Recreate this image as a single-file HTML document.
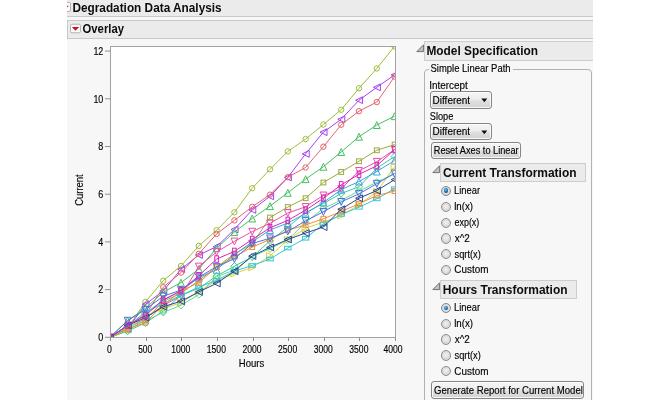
<!DOCTYPE html>
<html lang="en"><head><meta charset="utf-8"><title>Degradation Data Analysis</title>
<style>
html,body{margin:0;padding:0;background:#fff;}
body{width:668px;height:400px;position:relative;overflow:hidden;font-family:"Liberation Sans",sans-serif;color:#000;}
#panel{position:absolute;left:67px;top:0;width:526px;height:400px;background:#f7f7f7;overflow:hidden;}
.abs{position:absolute;}
.hdr{position:absolute;background:#ebebeb;box-sizing:border-box;}
.b{position:absolute;font-weight:bold;white-space:nowrap;line-height:20px;color:#0c0c0c;transform-origin:0 0;}
.t{position:absolute;white-space:nowrap;line-height:20px;font-size:10.5px;transform-origin:0 0;color:#000;-webkit-text-stroke:0.15px #000;}
.chart{position:absolute;left:0;top:0;}
.chart text{font-family:"Liberation Sans",sans-serif;}
.btn{position:absolute;box-sizing:border-box;border:1px solid #868686;border-radius:3px;background:linear-gradient(#f5f5f5 0%,#ededed 45%,#dfdfdf 55%,#d3d3d3 100%);box-shadow:inset 0 0 0 1px rgba(255,255,255,.8);}
.radio{position:absolute;width:10.4px;height:10.4px;box-sizing:border-box;border-radius:50%;border:1px solid #8e8e8e;background:radial-gradient(circle at 50% 45%,#f2f2f2 0%,#dedede 50%,#c8c8c8 100%);}
.radio.on{border-color:#80868c;background:radial-gradient(circle at 50% 45%,#e8e8e8 0%,#dcdcdc 60%,#c8c8c8 100%);}
.radio.on i{position:absolute;left:1.9px;top:1.9px;width:4.6px;height:4.6px;border-radius:50%;background:radial-gradient(circle at 42% 38%,#86d6f6 0%,#1f8ccc 34%,#0c4c80 78%,#093e6c 100%);}
</style></head><body>
<div id="panel"></div>

<div class="hdr" style="left:67px;top:0;width:526px;height:17px;border-bottom:1px solid #c8c8c8;"></div>
<div class="hdr" style="left:67px;top:20px;width:526px;height:19px;border:1px solid #c8c8c8;border-right:none;"></div>
<svg class="abs" style="left:67px;top:1.6px" width="5" height="12" viewBox="0 0 5 12"><rect x="-6.5" y="0.5" width="10" height="9" rx="1.5" fill="#fafafa" stroke="#b4b4b4"/><path d="M-6 3.7 L1.8 3.7 L-2.1 7.5 Z" fill="#d0101c"/></svg>
<svg class="abs" style="left:69.8px;top:23px" width="12" height="12" viewBox="0 0 12 12"><rect x="0.5" y="1.2" width="10" height="8.6" rx="1.5" fill="#fafafa" stroke="#b4b4b4"/><path d="M1.9 4 L9.1 4 L5.5 7.7 Z" fill="#d0101c"/></svg>
<div class="b" style="left:72px;top:-2px;font-size:12.8px;transform:matrix(0.9228,0.0004,0,1,0.43,0.10);">Degradation Data Analysis</div>
<div class="b" style="left:82px;top:19px;font-size:12.8px;transform:matrix(0.8824,0.0004,0,1,0.55,0.40);">Overlay</div>
<svg class="chart" width="668" height="400" viewBox="0 0 668 400">
<defs><clipPath id="pc"><rect x="110.5" y="46.5" width="285.0" height="291.0"/></clipPath></defs>
<rect x="110.5" y="46.5" width="285.0" height="291.0" fill="#ffffff" stroke="none"/>
<g clip-path="url(#pc)" fill="none" stroke-width="1" stroke-linejoin="miter">
<g stroke="#9cbe38"><polyline points="109.80,337.50 127.60,327.72 145.40,301.96 163.20,280.74 181.00,265.95 198.80,245.92 216.60,230.18 234.40,212.29 252.20,188.20 270.00,169.36 287.80,151.47 305.60,139.07 323.40,124.52 341.20,109.73 359.00,88.27 376.80,68.47 394.60,46.29"/>
<circle cx="109.80" cy="337.50" r="2.7"/>
<circle cx="127.60" cy="327.72" r="2.7"/>
<circle cx="145.40" cy="301.96" r="2.7"/>
<circle cx="163.20" cy="280.74" r="2.7"/>
<circle cx="181.00" cy="265.95" r="2.7"/>
<circle cx="198.80" cy="245.92" r="2.7"/>
<circle cx="216.60" cy="230.18" r="2.7"/>
<circle cx="234.40" cy="212.29" r="2.7"/>
<circle cx="252.20" cy="188.20" r="2.7"/>
<circle cx="270.00" cy="169.36" r="2.7"/>
<circle cx="287.80" cy="151.47" r="2.7"/>
<circle cx="305.60" cy="139.07" r="2.7"/>
<circle cx="323.40" cy="124.52" r="2.7"/>
<circle cx="341.20" cy="109.73" r="2.7"/>
<circle cx="359.00" cy="88.27" r="2.7"/>
<circle cx="376.80" cy="68.47" r="2.7"/>
<circle cx="394.60" cy="46.29" r="2.7"/>
</g>
<g stroke="#a640f2"><polyline points="109.80,337.50 127.60,328.91 145.40,304.35 163.20,290.99 181.00,269.29 198.80,254.98 216.60,246.63 234.40,229.46 252.20,209.90 270.00,196.31 287.80,177.47 305.60,153.85 323.40,132.15 341.20,119.27 359.00,100.19 376.80,87.31 394.60,74.91"/>
<path d="M106.40 337.50L113.40 334.10L113.40 340.90Z"/>
<path d="M124.20 328.91L131.20 325.51L131.20 332.31Z"/>
<path d="M142.00 304.35L149.00 300.95L149.00 307.75Z"/>
<path d="M159.80 290.99L166.80 287.59L166.80 294.39Z"/>
<path d="M177.60 269.29L184.60 265.89L184.60 272.69Z"/>
<path d="M195.40 254.98L202.40 251.58L202.40 258.38Z"/>
<path d="M213.20 246.63L220.20 243.23L220.20 250.03Z"/>
<path d="M231.00 229.46L238.00 226.06L238.00 232.86Z"/>
<path d="M248.80 209.90L255.80 206.50L255.80 213.30Z"/>
<path d="M266.60 196.31L273.60 192.91L273.60 199.71Z"/>
<path d="M284.40 177.47L291.40 174.07L291.40 180.87Z"/>
<path d="M302.20 153.85L309.20 150.45L309.20 157.25Z"/>
<path d="M320.00 132.15L327.00 128.75L327.00 135.55Z"/>
<path d="M337.80 119.27L344.80 115.87L344.80 122.67Z"/>
<path d="M355.60 100.19L362.60 96.79L362.60 103.59Z"/>
<path d="M373.40 87.31L380.40 83.91L380.40 90.71Z"/>
<path d="M391.20 74.91L398.20 71.51L398.20 78.31Z"/>
</g>
<g stroke="#e5636f"><polyline points="109.80,337.50 127.60,326.29 145.40,315.32 163.20,287.18 181.00,272.63 198.80,253.79 216.60,233.99 234.40,220.40 252.20,206.80 270.00,194.64 287.80,177.23 305.60,167.45 323.40,146.70 341.20,124.76 359.00,111.16 376.80,102.10 394.60,76.58"/>
<circle cx="109.80" cy="337.50" r="2.7"/>
<circle cx="127.60" cy="326.29" r="2.7"/>
<circle cx="145.40" cy="315.32" r="2.7"/>
<circle cx="163.20" cy="287.18" r="2.7"/>
<circle cx="181.00" cy="272.63" r="2.7"/>
<circle cx="198.80" cy="253.79" r="2.7"/>
<circle cx="216.60" cy="233.99" r="2.7"/>
<circle cx="234.40" cy="220.40" r="2.7"/>
<circle cx="252.20" cy="206.80" r="2.7"/>
<circle cx="270.00" cy="194.64" r="2.7"/>
<circle cx="287.80" cy="177.23" r="2.7"/>
<circle cx="305.60" cy="167.45" r="2.7"/>
<circle cx="323.40" cy="146.70" r="2.7"/>
<circle cx="341.20" cy="124.76" r="2.7"/>
<circle cx="359.00" cy="111.16" r="2.7"/>
<circle cx="376.80" cy="102.10" r="2.7"/>
<circle cx="394.60" cy="76.58" r="2.7"/>
</g>
<g stroke="#46be60"><polyline points="109.80,337.50 127.60,320.57 145.40,308.40 163.20,292.19 181.00,282.64 198.80,269.05 216.60,248.06 234.40,232.08 252.20,218.49 270.00,206.09 287.80,192.73 305.60,179.14 323.40,166.73 341.20,151.95 359.00,136.68 376.80,125.00 394.60,116.17"/>
<path d="M109.80 334.10L113.20 341.00L106.40 341.00Z"/>
<path d="M127.60 317.17L131.00 324.07L124.20 324.07Z"/>
<path d="M145.40 305.00L148.80 311.90L142.00 311.90Z"/>
<path d="M163.20 288.79L166.60 295.69L159.80 295.69Z"/>
<path d="M181.00 279.25L184.40 286.14L177.60 286.14Z"/>
<path d="M198.80 265.65L202.20 272.55L195.40 272.55Z"/>
<path d="M216.60 244.66L220.00 251.56L213.20 251.56Z"/>
<path d="M234.40 228.68L237.80 235.58L231.00 235.58Z"/>
<path d="M252.20 215.09L255.60 221.99L248.80 221.99Z"/>
<path d="M270.00 202.69L273.40 209.59L266.60 209.59Z"/>
<path d="M287.80 189.33L291.20 196.23L284.40 196.23Z"/>
<path d="M305.60 175.74L309.00 182.64L302.20 182.64Z"/>
<path d="M323.40 163.33L326.80 170.23L320.00 170.23Z"/>
<path d="M341.20 148.55L344.60 155.45L337.80 155.45Z"/>
<path d="M359.00 133.28L362.40 140.18L355.60 140.18Z"/>
<path d="M376.80 121.60L380.20 128.50L373.40 128.50Z"/>
<path d="M394.60 112.77L398.00 119.67L391.20 119.67Z"/>
</g>
<g stroke="#9aaa3a"><polyline points="109.80,337.50 127.60,330.35 145.40,319.85 163.20,301.25 181.00,293.38 198.80,280.50 216.60,267.14 234.40,253.79 252.20,244.01 270.00,217.53 287.80,207.04 305.60,198.22 323.40,182.47 341.20,171.98 359.00,161.25 376.80,150.28 394.60,144.55"/>
<rect x="107.40" y="335.10" width="4.8" height="4.8"/>
<rect x="125.20" y="327.95" width="4.8" height="4.8"/>
<rect x="143.00" y="317.45" width="4.8" height="4.8"/>
<rect x="160.80" y="298.85" width="4.8" height="4.8"/>
<rect x="178.60" y="290.98" width="4.8" height="4.8"/>
<rect x="196.40" y="278.10" width="4.8" height="4.8"/>
<rect x="214.20" y="264.74" width="4.8" height="4.8"/>
<rect x="232.00" y="251.39" width="4.8" height="4.8"/>
<rect x="249.80" y="241.61" width="4.8" height="4.8"/>
<rect x="267.60" y="215.13" width="4.8" height="4.8"/>
<rect x="285.40" y="204.64" width="4.8" height="4.8"/>
<rect x="303.20" y="195.82" width="4.8" height="4.8"/>
<rect x="321.00" y="180.07" width="4.8" height="4.8"/>
<rect x="338.80" y="169.58" width="4.8" height="4.8"/>
<rect x="356.60" y="158.85" width="4.8" height="4.8"/>
<rect x="374.40" y="147.88" width="4.8" height="4.8"/>
<rect x="392.20" y="142.15" width="4.8" height="4.8"/>
</g>
<g stroke="#e850a8"><polyline points="109.80,337.50 127.60,328.20 145.40,318.42 163.20,305.30 181.00,296.00 198.80,266.43 216.60,251.88 234.40,241.38 252.20,231.61 270.00,223.26 287.80,213.00 305.60,206.80 323.40,195.35 341.20,188.91 359.00,170.79 376.80,161.73 394.60,149.56"/>
<path d="M109.80 341.10L113.20 334.20L106.40 334.20Z"/>
<path d="M127.60 331.80L131.00 324.90L124.20 324.90Z"/>
<path d="M145.40 322.02L148.80 315.12L142.00 315.12Z"/>
<path d="M163.20 308.90L166.60 302.00L159.80 302.00Z"/>
<path d="M181.00 299.60L184.40 292.70L177.60 292.70Z"/>
<path d="M198.80 270.03L202.20 263.13L195.40 263.13Z"/>
<path d="M216.60 255.48L220.00 248.58L213.20 248.58Z"/>
<path d="M234.40 244.98L237.80 238.08L231.00 238.08Z"/>
<path d="M252.20 235.21L255.60 228.31L248.80 228.31Z"/>
<path d="M270.00 226.86L273.40 219.96L266.60 219.96Z"/>
<path d="M287.80 216.60L291.20 209.70L284.40 209.70Z"/>
<path d="M305.60 210.40L309.00 203.50L302.20 203.50Z"/>
<path d="M323.40 198.95L326.80 192.05L320.00 192.05Z"/>
<path d="M341.20 192.51L344.60 185.61L337.80 185.61Z"/>
<path d="M359.00 174.39L362.40 167.49L355.60 167.49Z"/>
<path d="M376.80 165.33L380.20 158.43L373.40 158.43Z"/>
<path d="M394.60 153.16L398.00 146.26L391.20 146.26Z"/>
</g>
<g stroke="#3cc8a0"><polyline points="109.80,337.50 127.60,331.06 145.40,322.95 163.20,311.03 181.00,295.29 198.80,288.37 216.60,275.97 234.40,266.19 252.20,256.89 270.00,240.91 287.80,227.07 305.60,212.53 323.40,203.46 341.20,193.45 359.00,186.77 376.80,168.16 394.60,156.48"/>
<path d="M109.80 333.90L113.40 337.50L109.80 341.10L106.20 337.50Z"/>
<path d="M127.60 327.46L131.20 331.06L127.60 334.66L124.00 331.06Z"/>
<path d="M145.40 319.35L149.00 322.95L145.40 326.55L141.80 322.95Z"/>
<path d="M163.20 307.43L166.80 311.03L163.20 314.63L159.60 311.03Z"/>
<path d="M181.00 291.69L184.60 295.29L181.00 298.89L177.40 295.29Z"/>
<path d="M198.80 284.77L202.40 288.37L198.80 291.97L195.20 288.37Z"/>
<path d="M216.60 272.37L220.20 275.97L216.60 279.57L213.00 275.97Z"/>
<path d="M234.40 262.59L238.00 266.19L234.40 269.79L230.80 266.19Z"/>
<path d="M252.20 253.29L255.80 256.89L252.20 260.49L248.60 256.89Z"/>
<path d="M270.00 237.31L273.60 240.91L270.00 244.51L266.40 240.91Z"/>
<path d="M287.80 223.47L291.40 227.07L287.80 230.67L284.20 227.07Z"/>
<path d="M305.60 208.93L309.20 212.53L305.60 216.13L302.00 212.53Z"/>
<path d="M323.40 199.86L327.00 203.46L323.40 207.06L319.80 203.46Z"/>
<path d="M341.20 189.85L344.80 193.45L341.20 197.05L337.60 193.45Z"/>
<path d="M359.00 183.17L362.60 186.77L359.00 190.37L355.40 186.77Z"/>
<path d="M376.80 164.56L380.40 168.16L376.80 171.76L373.20 168.16Z"/>
<path d="M394.60 152.88L398.20 156.48L394.60 160.08L391.00 156.48Z"/>
</g>
<g stroke="#3ca4e0"><polyline points="109.80,337.50 127.60,327.01 145.40,313.65 163.20,300.06 181.00,290.75 198.80,277.64 216.60,269.77 234.40,254.74 252.20,241.86 270.00,229.94 287.80,223.02 305.60,213.48 323.40,202.51 341.20,189.63 359.00,181.52 376.80,171.50 394.60,160.53"/>
<path d="M109.80 334.10L113.20 341.00L106.40 341.00Z"/>
<path d="M127.60 323.61L131.00 330.51L124.20 330.51Z"/>
<path d="M145.40 310.25L148.80 317.15L142.00 317.15Z"/>
<path d="M163.20 296.66L166.60 303.56L159.80 303.56Z"/>
<path d="M181.00 287.35L184.40 294.25L177.60 294.25Z"/>
<path d="M198.80 274.24L202.20 281.14L195.40 281.14Z"/>
<path d="M216.60 266.37L220.00 273.27L213.20 273.27Z"/>
<path d="M234.40 251.34L237.80 258.24L231.00 258.24Z"/>
<path d="M252.20 238.46L255.60 245.36L248.80 245.36Z"/>
<path d="M270.00 226.54L273.40 233.44L266.60 233.44Z"/>
<path d="M287.80 219.62L291.20 226.52L284.40 226.52Z"/>
<path d="M305.60 210.08L309.00 216.98L302.20 216.98Z"/>
<path d="M323.40 199.11L326.80 206.01L320.00 206.01Z"/>
<path d="M341.20 186.23L344.60 193.13L337.80 193.13Z"/>
<path d="M359.00 178.12L362.40 185.02L355.60 185.02Z"/>
<path d="M376.80 168.10L380.20 175.00L373.40 175.00Z"/>
<path d="M394.60 157.13L398.00 164.03L391.20 164.03Z"/>
</g>
<g stroke="#dcd040"><polyline points="109.80,337.50 127.60,328.91 145.40,315.56 163.20,308.64 181.00,302.68 198.80,291.47 216.60,280.50 234.40,273.58 252.20,267.38 270.00,255.93 287.80,239.95 305.60,228.27 323.40,222.07 341.20,215.63 359.00,204.66 376.80,191.78 394.60,166.50"/>
<path d="M113.30 337.50L106.30 334.10L106.30 340.90Z"/>
<path d="M131.10 328.91L124.10 325.51L124.10 332.31Z"/>
<path d="M148.90 315.56L141.90 312.16L141.90 318.96Z"/>
<path d="M166.70 308.64L159.70 305.24L159.70 312.04Z"/>
<path d="M184.50 302.68L177.50 299.28L177.50 306.08Z"/>
<path d="M202.30 291.47L195.30 288.07L195.30 294.87Z"/>
<path d="M220.10 280.50L213.10 277.10L213.10 283.90Z"/>
<path d="M237.90 273.58L230.90 270.18L230.90 276.98Z"/>
<path d="M255.70 267.38L248.70 263.98L248.70 270.78Z"/>
<path d="M273.50 255.93L266.50 252.53L266.50 259.33Z"/>
<path d="M291.30 239.95L284.30 236.55L284.30 243.35Z"/>
<path d="M309.10 228.27L302.10 224.87L302.10 231.67Z"/>
<path d="M326.90 222.07L319.90 218.67L319.90 225.47Z"/>
<path d="M344.70 215.63L337.70 212.23L337.70 219.03Z"/>
<path d="M362.50 204.66L355.50 201.26L355.50 208.06Z"/>
<path d="M380.30 191.78L373.30 188.38L373.30 195.18Z"/>
<path d="M398.10 166.50L391.10 163.10L391.10 169.90Z"/>
</g>
<g stroke="#6cd88c"><polyline points="109.80,337.50 127.60,327.01 145.40,320.81 163.20,312.46 181.00,305.30 198.80,294.57 216.60,276.68 234.40,270.00 252.20,256.65 270.00,248.78 287.80,239.95 305.60,222.30 323.40,208.47 341.20,200.12 359.00,191.06 376.80,182.24 394.60,173.41"/>
<path d="M109.80 333.90L113.40 337.50L109.80 341.10L106.20 337.50Z"/>
<path d="M127.60 323.41L131.20 327.01L127.60 330.61L124.00 327.01Z"/>
<path d="M145.40 317.20L149.00 320.81L145.40 324.41L141.80 320.81Z"/>
<path d="M163.20 308.86L166.80 312.46L163.20 316.06L159.60 312.46Z"/>
<path d="M181.00 301.70L184.60 305.30L181.00 308.90L177.40 305.30Z"/>
<path d="M198.80 290.97L202.40 294.57L198.80 298.17L195.20 294.57Z"/>
<path d="M216.60 273.08L220.20 276.68L216.60 280.28L213.00 276.68Z"/>
<path d="M234.40 266.40L238.00 270.00L234.40 273.60L230.80 270.00Z"/>
<path d="M252.20 253.05L255.80 256.65L252.20 260.25L248.60 256.65Z"/>
<path d="M270.00 245.18L273.60 248.78L270.00 252.38L266.40 248.78Z"/>
<path d="M287.80 236.35L291.40 239.95L287.80 243.55L284.20 239.95Z"/>
<path d="M305.60 218.70L309.20 222.30L305.60 225.90L302.00 222.30Z"/>
<path d="M323.40 204.87L327.00 208.47L323.40 212.07L319.80 208.47Z"/>
<path d="M341.20 196.52L344.80 200.12L341.20 203.72L337.60 200.12Z"/>
<path d="M359.00 187.46L362.60 191.06L359.00 194.66L355.40 191.06Z"/>
<path d="M376.80 178.64L380.40 182.24L376.80 185.84L373.20 182.24Z"/>
<path d="M394.60 169.81L398.20 173.41L394.60 177.01L391.00 173.41Z"/>
</g>
<g stroke="#34c6d4"><polyline points="109.80,337.50 127.60,326.53 145.40,311.98 163.20,303.63 181.00,295.29 198.80,287.18 216.60,280.26 234.40,271.20 252.20,265.47 270.00,259.03 287.80,248.06 305.60,238.28 323.40,223.97 341.20,214.43 359.00,207.28 376.80,198.93 394.60,188.68"/>
<rect x="106.60" y="335.70" width="6.4" height="3.6"/>
<rect x="124.40" y="324.73" width="6.4" height="3.6"/>
<rect x="142.20" y="310.18" width="6.4" height="3.6"/>
<rect x="160.00" y="301.83" width="6.4" height="3.6"/>
<rect x="177.80" y="293.49" width="6.4" height="3.6"/>
<rect x="195.60" y="285.38" width="6.4" height="3.6"/>
<rect x="213.40" y="278.46" width="6.4" height="3.6"/>
<rect x="231.20" y="269.40" width="6.4" height="3.6"/>
<rect x="249.00" y="263.67" width="6.4" height="3.6"/>
<rect x="266.80" y="257.23" width="6.4" height="3.6"/>
<rect x="284.60" y="246.26" width="6.4" height="3.6"/>
<rect x="302.40" y="236.48" width="6.4" height="3.6"/>
<rect x="320.20" y="222.17" width="6.4" height="3.6"/>
<rect x="338.00" y="212.63" width="6.4" height="3.6"/>
<rect x="355.80" y="205.48" width="6.4" height="3.6"/>
<rect x="373.60" y="197.13" width="6.4" height="3.6"/>
<rect x="391.40" y="186.88" width="6.4" height="3.6"/>
</g>
<g stroke="#f08c3c"><polyline points="109.80,337.50 127.60,328.91 145.40,322.71 163.20,305.06 181.00,290.99 198.80,282.64 216.60,267.14 234.40,256.65 252.20,247.11 270.00,239.48 287.80,230.18 305.60,224.93 323.40,218.73 341.20,211.57 359.00,203.70 376.80,195.59 394.60,191.06"/>
<rect x="107.40" y="335.10" width="4.8" height="4.8"/>
<rect x="125.20" y="326.51" width="4.8" height="4.8"/>
<rect x="143.00" y="320.31" width="4.8" height="4.8"/>
<rect x="160.80" y="302.66" width="4.8" height="4.8"/>
<rect x="178.60" y="288.59" width="4.8" height="4.8"/>
<rect x="196.40" y="280.25" width="4.8" height="4.8"/>
<rect x="214.20" y="264.74" width="4.8" height="4.8"/>
<rect x="232.00" y="254.25" width="4.8" height="4.8"/>
<rect x="249.80" y="244.71" width="4.8" height="4.8"/>
<rect x="267.60" y="237.08" width="4.8" height="4.8"/>
<rect x="285.40" y="227.78" width="4.8" height="4.8"/>
<rect x="303.20" y="222.53" width="4.8" height="4.8"/>
<rect x="321.00" y="216.33" width="4.8" height="4.8"/>
<rect x="338.80" y="209.17" width="4.8" height="4.8"/>
<rect x="356.60" y="201.30" width="4.8" height="4.8"/>
<rect x="374.40" y="193.19" width="4.8" height="4.8"/>
<rect x="392.20" y="188.66" width="4.8" height="4.8"/>
</g>
<g stroke="#4c72e0"><polyline points="109.80,337.50 127.60,320.57 145.40,309.60 163.20,296.24 181.00,290.04 198.80,277.16 216.60,266.67 234.40,258.80 252.20,243.53 270.00,238.28 287.80,231.37 305.60,220.87 323.40,211.81 341.20,201.79 359.00,193.92 376.80,183.67 394.60,173.41"/>
<path d="M109.80 341.10L113.20 334.20L106.40 334.20Z"/>
<path d="M127.60 324.17L131.00 317.27L124.20 317.27Z"/>
<path d="M145.40 313.20L148.80 306.30L142.00 306.30Z"/>
<path d="M163.20 299.84L166.60 292.94L159.80 292.94Z"/>
<path d="M181.00 293.64L184.40 286.74L177.60 286.74Z"/>
<path d="M198.80 280.76L202.20 273.86L195.40 273.86Z"/>
<path d="M216.60 270.27L220.00 263.37L213.20 263.37Z"/>
<path d="M234.40 262.40L237.80 255.50L231.00 255.50Z"/>
<path d="M252.20 247.13L255.60 240.23L248.80 240.23Z"/>
<path d="M270.00 241.88L273.40 234.98L266.60 234.98Z"/>
<path d="M287.80 234.97L291.20 228.07L284.40 228.07Z"/>
<path d="M305.60 224.47L309.00 217.57L302.20 217.57Z"/>
<path d="M323.40 215.41L326.80 208.51L320.00 208.51Z"/>
<path d="M341.20 205.39L344.60 198.49L337.80 198.49Z"/>
<path d="M359.00 197.52L362.40 190.62L355.60 190.62Z"/>
<path d="M376.80 187.27L380.20 180.37L373.40 180.37Z"/>
<path d="M394.60 177.01L398.00 170.11L391.20 170.11Z"/>
</g>
<g stroke="#284890"><polyline points="109.80,337.50 127.60,325.34 145.40,317.70 163.20,306.73 181.00,301.25 198.80,291.95 216.60,283.36 234.40,271.20 252.20,255.93 270.00,247.35 287.80,239.48 305.60,233.04 323.40,227.07 341.20,209.19 359.00,198.22 376.80,190.58 394.60,179.61"/>
<path d="M106.40 337.50L113.40 334.10L113.40 340.90Z"/>
<path d="M124.20 325.34L131.20 321.94L131.20 328.74Z"/>
<path d="M142.00 317.70L149.00 314.30L149.00 321.10Z"/>
<path d="M159.80 306.73L166.80 303.33L166.80 310.13Z"/>
<path d="M177.60 301.25L184.60 297.85L184.60 304.65Z"/>
<path d="M195.40 291.95L202.40 288.55L202.40 295.35Z"/>
<path d="M213.20 283.36L220.20 279.96L220.20 286.76Z"/>
<path d="M231.00 271.20L238.00 267.80L238.00 274.60Z"/>
<path d="M248.80 255.93L255.80 252.53L255.80 259.33Z"/>
<path d="M266.60 247.35L273.60 243.95L273.60 250.75Z"/>
<path d="M284.40 239.48L291.40 236.08L291.40 242.88Z"/>
<path d="M302.20 233.04L309.20 229.64L309.20 236.44Z"/>
<path d="M320.00 227.07L327.00 223.67L327.00 230.47Z"/>
<path d="M337.80 209.19L344.80 205.79L344.80 212.59Z"/>
<path d="M355.60 198.22L362.60 194.82L362.60 201.62Z"/>
<path d="M373.40 190.58L380.40 187.18L380.40 193.98Z"/>
<path d="M391.20 179.61L398.20 176.21L398.20 183.01Z"/>
</g>
<g stroke="#e020b8"><polyline points="109.80,337.50 127.60,325.34 145.40,315.32 163.20,300.06 181.00,290.75 198.80,275.73 216.60,259.03 234.40,251.40 252.20,239.48 270.00,227.79 287.80,220.40 305.60,210.14 323.40,198.22 341.20,184.86 359.00,174.37 376.80,165.78 394.60,149.56"/>
<rect x="108.00" y="334.30" width="3.6" height="6.4"/>
<rect x="125.80" y="322.14" width="3.6" height="6.4"/>
<rect x="143.60" y="312.12" width="3.6" height="6.4"/>
<rect x="161.40" y="296.86" width="3.6" height="6.4"/>
<rect x="179.20" y="287.55" width="3.6" height="6.4"/>
<rect x="197.00" y="272.53" width="3.6" height="6.4"/>
<rect x="214.80" y="255.83" width="3.6" height="6.4"/>
<rect x="232.60" y="248.20" width="3.6" height="6.4"/>
<rect x="250.40" y="236.28" width="3.6" height="6.4"/>
<rect x="268.20" y="224.59" width="3.6" height="6.4"/>
<rect x="286.00" y="217.20" width="3.6" height="6.4"/>
<rect x="303.80" y="206.94" width="3.6" height="6.4"/>
<rect x="321.60" y="195.02" width="3.6" height="6.4"/>
<rect x="339.40" y="181.66" width="3.6" height="6.4"/>
<rect x="357.20" y="171.17" width="3.6" height="6.4"/>
<rect x="375.00" y="162.58" width="3.6" height="6.4"/>
<rect x="392.80" y="146.36" width="3.6" height="6.4"/>
</g>
</g>
<g stroke="#a2a2a2" stroke-width="1" fill="none">
<rect x="110.5" y="46.5" width="285.0" height="291.0"/>
<line x1="105" y1="337.30" x2="110.5" y2="337.30" stroke="#909090"/>
<line x1="105" y1="289.60" x2="110.5" y2="289.60" stroke="#909090"/>
<line x1="105" y1="241.90" x2="110.5" y2="241.90" stroke="#909090"/>
<line x1="105" y1="194.20" x2="110.5" y2="194.20" stroke="#909090"/>
<line x1="105" y1="146.50" x2="110.5" y2="146.50" stroke="#909090"/>
<line x1="105" y1="98.80" x2="110.5" y2="98.80" stroke="#909090"/>
<line x1="105" y1="51.10" x2="110.5" y2="51.10" stroke="#909090"/>
<line x1="110.50" y1="337.5" x2="110.50" y2="341" stroke="#8c8c8c"/>
<line x1="146.50" y1="337.5" x2="146.50" y2="341" stroke="#8c8c8c"/>
<line x1="181.50" y1="337.5" x2="181.50" y2="341" stroke="#8c8c8c"/>
<line x1="217.50" y1="337.5" x2="217.50" y2="341" stroke="#8c8c8c"/>
<line x1="253.50" y1="337.5" x2="253.50" y2="341" stroke="#8c8c8c"/>
<line x1="288.50" y1="337.5" x2="288.50" y2="341" stroke="#8c8c8c"/>
<line x1="324.50" y1="337.5" x2="324.50" y2="341" stroke="#8c8c8c"/>
<line x1="359.50" y1="337.5" x2="359.50" y2="341" stroke="#8c8c8c"/>
<line x1="395.50" y1="337.5" x2="395.50" y2="341" stroke="#8c8c8c"/>
</g>
<g class="tk" font-size="10.6" fill="#000" stroke="#000" stroke-width="0.15">
<text x="103.3" y="341.10" text-anchor="end" textLength="5.0" lengthAdjust="spacingAndGlyphs">0</text>
<text x="103.3" y="293.40" text-anchor="end" textLength="5.0" lengthAdjust="spacingAndGlyphs">2</text>
<text x="103.3" y="245.70" text-anchor="end" textLength="5.0" lengthAdjust="spacingAndGlyphs">4</text>
<text x="103.3" y="198.00" text-anchor="end" textLength="5.0" lengthAdjust="spacingAndGlyphs">6</text>
<text x="103.3" y="150.30" text-anchor="end" textLength="5.0" lengthAdjust="spacingAndGlyphs">8</text>
<text x="103.3" y="102.60" text-anchor="end" textLength="9.9" lengthAdjust="spacingAndGlyphs">10</text>
<text x="103.3" y="54.90" text-anchor="end" textLength="9.9" lengthAdjust="spacingAndGlyphs">12</text>
<text x="109.50" y="353.1" text-anchor="middle" textLength="4.9" lengthAdjust="spacingAndGlyphs">0</text>
<text x="145.12" y="353.1" text-anchor="middle" textLength="13.9" lengthAdjust="spacingAndGlyphs">500</text>
<text x="180.75" y="353.1" text-anchor="middle" textLength="19.1" lengthAdjust="spacingAndGlyphs">1000</text>
<text x="216.38" y="353.1" text-anchor="middle" textLength="19.1" lengthAdjust="spacingAndGlyphs">1500</text>
<text x="252.00" y="353.1" text-anchor="middle" textLength="19.1" lengthAdjust="spacingAndGlyphs">2000</text>
<text x="287.62" y="353.1" text-anchor="middle" textLength="19.1" lengthAdjust="spacingAndGlyphs">2500</text>
<text x="323.25" y="353.1" text-anchor="middle" textLength="19.1" lengthAdjust="spacingAndGlyphs">3000</text>
<text x="358.88" y="353.1" text-anchor="middle" textLength="19.1" lengthAdjust="spacingAndGlyphs">3500</text>
<text x="393.10" y="353.1" text-anchor="middle" textLength="19.1" lengthAdjust="spacingAndGlyphs">4000</text>
<text x="251.5" y="367" text-anchor="middle" textLength="25.4" lengthAdjust="spacingAndGlyphs">Hours</text>
<text transform="translate(82.6,190) rotate(-90)" text-anchor="middle" textLength="31.5" lengthAdjust="spacingAndGlyphs">Current</text>
</g>
</svg>
<svg class="abs" style="left:415.5px;top:43.6px" width="9" height="9" viewBox="0 0 9 9"><path d="M7.6 0.8 L7.6 7.6 L0.8 7.6 Z" fill="#c2c2c2" stroke="#727272" stroke-width="1" stroke-linejoin="round"/></svg>
<div class="hdr" style="left:424px;top:41px;width:169px;height:20px;border:1px solid #cdcdcd;border-right:none;"></div>
<div class="b" style="left:426px;top:41px;font-size:12.8px;transform:matrix(0.9284,0.0004,0,1,0.43,0.40);">Model Specification</div>
<div class="abs" style="left:424px;top:68.6px;width:168px;height:340px;box-sizing:border-box;border:1px solid #b2b2b2;border-radius:4px;"></div>
<div class="abs" style="left:428.5px;top:66px;width:84.5px;height:6px;background:#f7f7f7;"></div>
<div class="t" style="left:430px;top:58px;font-size:10.5px;transform:matrix(0.9027,0.0004,0,1,0.47,0.00);">Simple Linear Path</div>
<div class="t" style="left:429px;top:74px;font-size:10.5px;transform:matrix(0.9424,0.0004,0,1,0.31,0.80);">Intercept</div>
<div class="btn" style="left:430px;top:91.3px;width:61.7px;height:17.4px"></div>
<div class="t" style="left:432px;top:89px;font-size:10.5px;transform:matrix(0.9498,0.0004,0,1,0.60,0.50);">Different</div>
<svg class="abs" style="left:480.6px;top:98.3px" width="7" height="5" viewBox="0 0 7 5"><path d="M0.3 0.6 L6.3 0.6 L3.3 4.2 Z" fill="#111"/></svg>
<div class="t" style="left:429px;top:106px;font-size:10.5px;transform:matrix(0.8791,0.0004,0,1,0.78,0.30);">Slope</div>
<div class="btn" style="left:430px;top:122.8px;width:61.7px;height:17px"></div>
<div class="t" style="left:432px;top:121px;font-size:10.5px;transform:matrix(0.9498,0.0004,0,1,0.60,0.00);">Different</div>
<svg class="abs" style="left:480.6px;top:129.8px" width="7" height="5" viewBox="0 0 7 5"><path d="M0.3 0.6 L6.3 0.6 L3.3 4.2 Z" fill="#111"/></svg>
<div class="btn" style="left:431.3px;top:142px;width:89.4px;height:17px"></div>
<div class="t" style="left:433px;top:140px;font-size:10.5px;transform:matrix(0.8758,0.0004,0,1,0.76,0.20);">Reset Axes to Linear</div>
<svg class="abs" style="left:431.7px;top:165.3px" width="9" height="9" viewBox="0 0 9 9"><path d="M7.6 0.8 L7.6 7.6 L0.8 7.6 Z" fill="#c2c2c2" stroke="#727272" stroke-width="1" stroke-linejoin="round"/></svg>
<div class="hdr" style="left:440.3px;top:162.8px;width:145.5px;height:19px;border:1px solid #cdcdcd;"></div>
<div class="b" style="left:443px;top:163px;font-size:12.8px;transform:matrix(0.9341,0.0004,0,1,0.02,0.00);">Current Transformation</div>
<div class="radio on" style="left:440.8px;top:185.6px"><i></i></div><div class="t" style="left:454px;top:180px;font-size:10.5px;transform:matrix(0.8939,0.0004,0,1,0.05,0.20);">Linear</div>
<div class="radio" style="left:440.8px;top:201.6px"></div><div class="t" style="left:454px;top:196px;font-size:10.5px;transform:matrix(0.9262,0.0004,0,1,0.17,0.20);">ln(x)</div>
<div class="radio" style="left:440.8px;top:217.6px"></div><div class="t" style="left:454px;top:212px;font-size:10.5px;transform:matrix(0.8529,0.0004,0,1,0.44,0.20);">exp(x)</div>
<div class="radio" style="left:440.8px;top:233.3px"></div><div class="t" style="left:454px;top:227px;font-size:10.5px;transform:matrix(0.9394,0.0004,0,1,0.70,0.90);">x^2</div>
<div class="radio" style="left:440.8px;top:248.9px"></div><div class="t" style="left:454px;top:243px;font-size:10.5px;transform:matrix(0.8831,0.0004,0,1,0.57,0.50);">sqrt(x)</div>
<div class="radio" style="left:440.8px;top:264.5px"></div><div class="t" style="left:454px;top:259px;font-size:10.5px;transform:matrix(0.9438,0.0004,0,1,0.30,0.10);">Custom</div>
<svg class="abs" style="left:431.7px;top:282.3px" width="9" height="9" viewBox="0 0 9 9"><path d="M7.6 0.8 L7.6 7.6 L0.8 7.6 Z" fill="#c2c2c2" stroke="#727272" stroke-width="1" stroke-linejoin="round"/></svg>
<div class="hdr" style="left:440.3px;top:280.2px;width:137px;height:18.6px;border:1px solid #cdcdcd;"></div>
<div class="b" style="left:442px;top:279px;font-size:12.8px;transform:matrix(0.9334,0.0004,0,1,0.72,0.80);">Hours Transformation</div>
<div class="radio on" style="left:440.8px;top:302.8px"><i></i></div><div class="t" style="left:454px;top:297px;font-size:10.5px;transform:matrix(0.8939,0.0004,0,1,0.05,0.40);">Linear</div>
<div class="radio" style="left:440.8px;top:318.6px"></div><div class="t" style="left:454px;top:313px;font-size:10.5px;transform:matrix(0.9262,0.0004,0,1,0.17,0.20);">ln(x)</div>
<div class="radio" style="left:440.8px;top:334.4px"></div><div class="t" style="left:454px;top:329px;font-size:10.5px;transform:matrix(0.9394,0.0004,0,1,0.70,0.00);">x^2</div>
<div class="radio" style="left:440.8px;top:350.3px"></div><div class="t" style="left:454px;top:344px;font-size:10.5px;transform:matrix(0.8831,0.0004,0,1,0.57,0.90);">sqrt(x)</div>
<div class="radio" style="left:440.8px;top:366.1px"></div><div class="t" style="left:454px;top:360px;font-size:10.5px;transform:matrix(0.9438,0.0004,0,1,0.30,0.70);">Custom</div>
<div class="btn" style="left:431.3px;top:381px;width:152.7px;height:18px"></div>
<div class="t" style="left:434px;top:379px;font-size:10.5px;transform:matrix(0.9143,0.0004,0,1,0.02,0.70);">Generate Report for Current Model</div>
</body></html>
